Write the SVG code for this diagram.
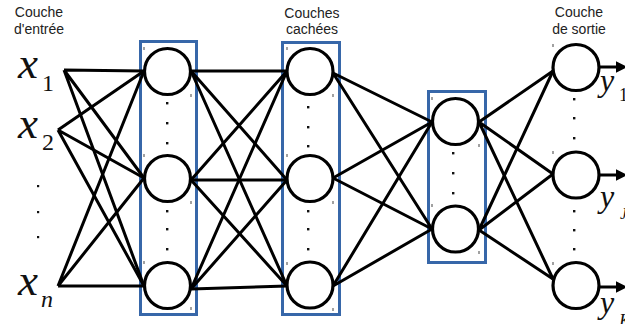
<svg xmlns="http://www.w3.org/2000/svg" width="625" height="324" viewBox="0 0 625 324">
  <style>
    .hdr { font-family: "Liberation Sans", Arial, sans-serif; font-size: 14px; fill: #222; text-anchor: middle; }
    .var { font-family: "Liberation Serif", "DejaVu Serif", serif; font-style: italic; fill: #111; }
    .sub { font-family: "Liberation Serif", "DejaVu Serif", serif; fill: #111; }
    .box { fill: none; stroke: #3767a9; stroke-width: 3; }
    .node { fill: #fff; stroke: #000; stroke-width: 3.2; }
    .edge { stroke: #000; stroke-width: 3; fill: none; }
    .dot { fill: #111; }
    .tick { fill: #444; }
  </style>
  <defs>
    <marker id="arrow" markerWidth="4" markerHeight="4" refX="0.5" refY="2" orient="auto" markerUnits="strokeWidth">
      <path d="M0,0 L4,2 L0,4 Z" fill="#000"/>
    </marker>
  </defs>

  <!-- layer headings -->
  <g id="headings">
    <text class="hdr" x="39" y="17">Couche</text>
    <text class="hdr" x="39" y="34">d'entrée</text>
    <text class="hdr" x="312" y="18">Couches</text>
    <text class="hdr" x="312" y="34">cachées</text>
    <text class="hdr" x="579" y="17">Couche</text>
    <text class="hdr" x="579" y="34">de sortie</text>
  </g>

  <!-- hidden-layer frames -->
  <g id="frames">
    <rect class="box" x="140.5" y="41.5" width="56" height="273"/>
    <rect class="box" x="282.5" y="42.5" width="57" height="272"/>
    <rect class="box" x="428.5" y="91.5" width="57" height="171"/>
  </g>

  <!-- connections -->
  <g id="connectors">
    <!-- inputs to hidden layer 1 -->
    <path class="edge" d="M64,70 L144,71 M64,70 L144,178 M64,70 L144,286"/>
    <path class="edge" d="M58,130 L144,71 M58,130 L144,178 M58,130 L144,286"/>
    <path class="edge" d="M58,286 L144,71 M58,286 L144,178 M58,286 L144,286"/>
    <!-- hidden layer 1 to hidden layer 2 -->
    <path class="edge" d="M191,71 L287,71 M191,71 L287,180 M191,71 L287,286"/>
    <path class="edge" d="M191,180 L287,71 M191,180 L287,180 M191,180 L287,286"/>
    <path class="edge" d="M191,289 L287,71 M191,289 L287,180 M191,289 L287,286"/>
    <!-- hidden layer 2 to hidden layer 3 -->
    <path class="edge" d="M333,73 L432,122 M333,73 L432,229"/>
    <path class="edge" d="M333,178 L432,122 M333,178 L432,229"/>
    <path class="edge" d="M333,286 L432,122 M333,286 L432,229"/>
    <!-- hidden layer 3 to outputs -->
    <path class="edge" d="M479,122 L553,71 M479,122 L553,174 M479,122 L553,279"/>
    <path class="edge" d="M479,230 L553,71 M479,230 L553,174 M479,230 L553,279"/>
    <!-- output arrows -->
    <path class="edge" d="M599,67 L617,67" marker-end="url(#arrow)"/>
    <path class="edge" d="M599,175 L617,175" marker-end="url(#arrow)"/>
    <path class="edge" d="M599,287 L617,287" marker-end="url(#arrow)"/>
  </g>

  <!-- input labels -->
  <g id="input-x1">
    <text class="var" x="18" y="78" font-size="45">x</text>
    <text class="sub" x="42" y="91" font-size="24">1</text>
  </g>
  <g id="input-x2">
    <text class="var" x="18" y="138" font-size="45">x</text>
    <text class="sub" x="42" y="150" font-size="24">2</text>
  </g>
  <g id="input-dots">
    <rect class="dot" x="37" y="185" width="2.2" height="2.2"/>
    <rect class="dot" x="37" y="211" width="2.2" height="2.2"/>
    <rect class="dot" x="37" y="236" width="2.2" height="2.2"/>
  </g>
  <g id="input-xn">
    <text class="var" x="18" y="295" font-size="45">x</text>
    <text class="var" x="41" y="307" font-size="24">n</text>
  </g>

  <!-- hidden layer 1 -->
  <g id="h1">
    <circle class="node" cx="167.5" cy="71.5" r="23"/>
    <circle class="node" cx="167.5" cy="178.5" r="23"/>
    <circle class="node" cx="167.5" cy="285.5" r="23"/>
    <rect class="dot" x="166" y="102" width="2.4" height="2.4"/>
    <rect class="dot" x="166" y="122" width="2.4" height="2.4"/>
    <rect class="dot" x="166" y="142" width="2.4" height="2.4"/>
    <rect class="dot" x="166" y="210" width="2.4" height="2.4"/>
    <rect class="dot" x="166" y="228" width="2.4" height="2.4"/>
    <rect class="dot" x="166" y="248" width="2.4" height="2.4"/>
    <rect class="tick" x="143.5" y="47" width="1" height="3"/>
    <rect class="tick" x="190.5" y="94" width="1" height="3"/>
    <rect class="tick" x="143.5" y="154" width="1" height="3"/>
    <rect class="tick" x="190.5" y="201" width="1" height="3"/>
    <rect class="tick" x="143.5" y="261" width="1" height="3"/>
    <rect class="tick" x="190.5" y="307" width="1" height="3"/>
  </g>

  <!-- hidden layer 2 -->
  <g id="h2">
    <circle class="node" cx="310" cy="71.5" r="23"/>
    <circle class="node" cx="310" cy="178.5" r="23"/>
    <circle class="node" cx="310" cy="285" r="23"/>
    <rect class="dot" x="307" y="106" width="2.4" height="2.4"/>
    <rect class="dot" x="307" y="126" width="2.4" height="2.4"/>
    <rect class="dot" x="307" y="145" width="2.4" height="2.4"/>
    <rect class="dot" x="307" y="210" width="2.4" height="2.4"/>
    <rect class="dot" x="307" y="228" width="2.4" height="2.4"/>
    <rect class="dot" x="307" y="248" width="2.4" height="2.4"/>
    <rect class="tick" x="286.5" y="47" width="1" height="3"/>
    <rect class="tick" x="332.5" y="94" width="1" height="3"/>
    <rect class="tick" x="286.5" y="154" width="1" height="3"/>
    <rect class="tick" x="332.5" y="201" width="1" height="3"/>
    <rect class="tick" x="286.5" y="262" width="1" height="3"/>
    <rect class="tick" x="332.5" y="308" width="1" height="3"/>
  </g>

  <!-- hidden layer 3 -->
  <g id="h3">
    <circle class="node" cx="455.5" cy="121.5" r="23"/>
    <circle class="node" cx="455.5" cy="229" r="23"/>
    <rect class="dot" x="452" y="152" width="2.4" height="2.4"/>
    <rect class="dot" x="452" y="172" width="2.4" height="2.4"/>
    <rect class="dot" x="452" y="192" width="2.4" height="2.4"/>
    <rect class="tick" x="431.5" y="97" width="1" height="3"/>
    <rect class="tick" x="478.5" y="144" width="1" height="3"/>
    <rect class="tick" x="431.5" y="204" width="1" height="3"/>
    <rect class="tick" x="478.5" y="251" width="1" height="3"/>
  </g>

  <!-- output layer -->
  <g id="out">
    <circle class="node" cx="576" cy="67.5" r="23"/>
    <circle class="node" cx="576" cy="175" r="23"/>
    <circle class="node" cx="576" cy="285.5" r="23"/>
    <rect class="dot" x="573" y="98" width="2.4" height="2.4"/>
    <rect class="dot" x="573" y="117" width="2.4" height="2.4"/>
    <rect class="dot" x="573" y="137" width="2.4" height="2.4"/>
    <rect class="dot" x="573" y="210" width="2.4" height="2.4"/>
    <rect class="dot" x="573" y="229" width="2.4" height="2.4"/>
    <rect class="dot" x="573" y="248" width="2.4" height="2.4"/>
    <rect class="tick" x="552.5" y="44" width="1" height="3"/>
    <rect class="tick" x="552.5" y="151" width="1" height="3"/>
    <rect class="tick" x="552.5" y="262" width="1" height="3"/>
  </g>

  <!-- output labels -->
  <g id="output-y1">
    <text class="var" x="600" y="91" font-size="32">y</text>
    <text class="sub" x="619" y="101" font-size="18">1</text>
  </g>
  <g id="output-yJ">
    <text class="var" x="600" y="207" font-size="32">y</text>
    <text class="var" x="620" y="219" font-size="16">J</text>
  </g>
  <g id="output-yK">
    <text class="var" x="600" y="313" font-size="32">y</text>
    <text class="var" x="619" y="327" font-size="18">K</text>
  </g>
</svg>
